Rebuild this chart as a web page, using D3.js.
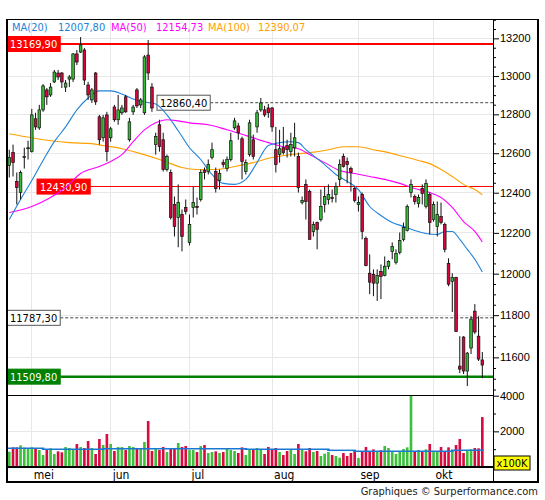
<!DOCTYPE html>
<html>
<head>
<meta charset="utf-8">
<script src="https://cdn.jsdelivr.net/npm/d3@7"></script>
<style>
  body { margin: 0; background: #fff; }
  svg { display: block; font-family: "DejaVu Sans Condensed", "DejaVu Sans", sans-serif; }
</style>
</head>
<body>
<svg width="545" height="500"></svg>
<script>
// trading days, 23 apr -> 18 okt (exchange closed 1 and 21 mei)
const firstDay = new Date(2018, 3, 23);
const lastDay = new Date(2018, 9, 19);
const holidays = ['2018-05-01', '2018-05-21'];
const monthLabels = ['mei', 'jun', 'jul', 'aug', 'sep', 'okt'];

const open = [12537,12603,12457,12401,12578,12623,12608,12777,12730,12823,12927,12901,12969,13016,13016,12942,12984,12984,13117,13127,
  13138,12953,12875,13016,12787,12679,12797,12679,12838,12772,12808,12891,12669,12813,12927,12849,12808,13111,12942,12644,
  12746,12669,12517,12502,12341,12276,12291,12326,12153,12326,12331,12366,12512,12507,12578,12507,12462,12552,12522,12568,
  12730,12740,12674,12507,12593,12669,12735,12823,12823,12833,12833,12618,12593,12628,12639,12608,12628,12583,12351,12442,
  12406,12207,12251,12266,12341,12366,12376,12391,12467,12583,12558,12522,12421,12341,12391,12173,12002,11997,11954,12011,
  11992,12036,12109,12055,12104,12168,12212,12401,12381,12346,12421,12331,12391,12266,12232,12281,12242,12050,11963,11982,
  11559,11696,11536,11644,11819,11700,11588];
const high = [12618,12644,12502,12512,12628,12664,12828,12808,12849,12958,12937,12963,13032,13032,13021,12979,13005,13122,13138,13207,
  13149,12969,12937,13021,12797,12797,12813,12735,12849,12901,12849,12901,12782,12849,12937,12885,13111,13191,12963,12705,
  12772,12705,12593,12517,12381,12442,12316,12366,12291,12431,12376,12517,12527,12568,12654,12527,12517,12568,12583,12705,
  12782,12756,12685,12568,12772,12695,12823,12885,12844,12854,12838,12735,12720,12735,12669,12705,12756,12603,12381,12467,
  12416,12256,12256,12416,12431,12442,12416,12452,12568,12598,12578,12532,12431,12381,12401,12182,12094,12021,12021,12045,
  12084,12065,12153,12119,12202,12251,12341,12467,12391,12391,12442,12467,12401,12356,12356,12351,12251,12075,12002,11985,
  11700,11700,11625,11795,11853,11795,11625];
const low = [12477,12482,12341,12366,12522,12568,12603,12720,12720,12813,12849,12891,12963,12979,12937,12916,12942,12969,13058,13122,
  12953,12875,12859,12849,12644,12659,12558,12659,12761,12746,12797,12808,12659,12797,12833,12833,12797,12979,12813,12593,
  12608,12507,12507,12266,12182,12129,12109,12291,12138,12276,12291,12356,12467,12492,12568,12401,12416,12527,12507,12558,
  12720,12669,12467,12492,12583,12568,12705,12813,12787,12782,12710,12502,12552,12593,12578,12583,12583,12401,12341,12266,
  12168,12182,12119,12256,12301,12341,12351,12351,12431,12527,12447,12406,12351,12306,12168,12036,11901,11891,11868,11877,
  11987,12021,12070,12045,12094,12158,12207,12376,12341,12326,12341,12321,12192,12256,12182,12242,12104,11939,11815,11720,
  11526,11522,11466,11616,11710,11583,11503];
const close = [12578,12552,12426,12502,12583,12628,12797,12735,12823,12948,12891,12942,13021,12995,12969,12963,12995,13117,13074,13165,
  12979,12901,12927,12865,12669,12782,12608,12725,12772,12823,12833,12813,12761,12838,12844,12875,13101,13016,12833,12685,
  12634,12517,12583,12276,12232,12351,12182,12306,12242,12351,12326,12502,12502,12542,12618,12421,12497,12542,12568,12664,
  12766,12705,12558,12552,12756,12583,12808,12859,12797,12808,12735,12542,12623,12603,12618,12644,12679,12426,12361,12356,
  12168,12242,12217,12331,12381,12391,12371,12431,12542,12532,12542,12502,12361,12351,12207,12040,11959,11954,11992,11987,
  12036,12060,12133,12099,12163,12227,12331,12442,12356,12376,12396,12447,12251,12341,12291,12251,12119,11949,11982,11722,
  11545,11536,11620,11781,11720,11592,11564];
// volume in units of 100K
const volume = [860,1103,1103,1215,1084,1047,1103,1009,953,673,953,1047,729,878,822,1121,1065,991,1290,1121,
  1065,1458,1065,729,1570,1234,1850,1290,897,1121,1121,953,1177,1121,1009,1009,1402,2579,897,1009,
  953,1121,841,1009,1009,1346,1121,1177,953,953,841,1177,1234,785,841,878,785,841,1009,953,
  897,785,1103,673,991,953,1065,991,729,1121,991,1065,841,673,897,972,729,1290,1009,878,
  1065,841,897,617,748,841,673,617,523,785,617,785,897,505,841,1121,878,991,878,935,
  1177,1065,841,729,897,1009,1103,4000,878,953,878,991,1290,897,878,1121,878,1103,878,1234,
  1570,785,897,991,1065,1047,2800];
// average volume: [from day, to day, level]
const volAvg = [[0,9,1050],[9,25,1000],[25,63,1030],[63,85,990],[85,92,935],[92,118,880],[118,126,935]];

// moving averages: [day index, value]
const ma20 = [[0,12266],[3,12366],[6,12462],[9,12563],[12,12659],[15,12735],[18,12823],[21,12885],[24,12922],[27,12922],
  [30,12906],[33,12880],[36,12864],[39,12854],[42,12797],[45,12715],[48,12628],[51,12568],[54,12492],[57,12447],
  [60,12442],[63,12467],[66,12552],[69,12639],[72,12654],[75,12659],[77,12654],[79,12618],[81,12588],[84,12542],
  [87,12492],[90,12457],[93,12416],[96,12331],[99,12286],[102,12251],[105,12232],[108,12212],[111,12197],[114,12192],
  [116,12207],[118,12207],[120,12168],[122,12119],[124,12070],[126,12007.80]];
const ma50 = [[0,12301],[6,12331],[11,12376],[15,12426],[19,12497],[24,12532],[27,12558],[30,12593],[33,12659],[36,12720],
  [39,12756],[42,12772],[45,12766],[48,12756],[53,12746],[58,12720],[64,12685],[69,12654],[73,12633],[77,12623],
  [80,12593],[84,12552],[88,12512],[92,12497],[96,12482],[100,12467],[104,12447],[108,12421],[112,12401],[115,12376],
  [118,12326],[121,12256],[124,12207],[126,12154.73]];
const ma100 = [[0,12700],[6,12679],[11,12664],[16,12654],[22,12649],[25,12639],[30,12623],[35,12598],[40,12568],[43,12547],
  [46,12527],[50,12517],[55,12517],[60,12532],[65,12552],[70,12578],[75,12593],[80,12603],[85,12618],[89,12633],
  [93,12633],[97,12618],[101,12603],[105,12583],[109,12563],[112,12547],[115,12517],[118,12482],[121,12442],[124,12416],
  [126,12390.07]];
const maNames = ['MA(20)', 'MA(50)', 'MA(100)'];
const maColors = ['#1f82d8', '#ff00ff', '#ffa000'];

// horizontal levels
const levels = [13169.90, 12860.40, 12430.90, 11787.30, 11509.80];
const priceTicks = [11600, 11800, 12000, 12200, 12400, 12600, 12800, 13000, 13200];
const volTicks = [2000, 4000];

const GREEN = '#36bb36', RED = '#d4063c';
const fmtDay = d3.timeFormat('%Y-%m-%d');
const days = d3.timeDay.range(firstDay, lastDay)
    .filter(d => d.getDay() % 6 !== 0)
    .map(fmtDay)
    .filter(s => !holidays.includes(s));
const comma = v => d3.format('.2f')(v).replace('.', ',');

// pane edges
const L = 7, R = 493, RF = 538, T = 19.5, PB = 395.7, VB = 467, B = 482;

const svg = d3.select('svg');

const x = d3.scaleBand().domain(days).range([7.4, 484.2]).paddingInner(0.3).paddingOuter(0.15);
const cx = i => x(days[i]) + x.bandwidth() / 2;
const y = d3.scaleLog().domain([11421.3, 13301.2]).range([PB, T]);
const yv = d3.scaleLinear().domain([0, 4000]).range([VB, PB]);

// grid
const grid = svg.append('g').attr('stroke', '#e8e8e8').attr('shape-rendering', 'crispEdges');
grid.selectAll('line.h').data(priceTicks).join('line').attr('class', 'h')
    .attr('x1', L).attr('x2', R).attr('y1', d => y(d)).attr('y2', d => y(d));
grid.append('line').attr('x1', L).attr('x2', R).attr('y1', yv(2000)).attr('y2', yv(2000));
const monthStart = monthLabels.map((m, k) => days.findIndex(d => +d.slice(5, 7) === k + 5));
grid.selectAll('line.v').data(monthStart).join('line').attr('class', 'v')
    .attr('x1', cx).attr('x2', cx).attr('y1', T).attr('y2', VB);

// level lines
const lvlStyle = [
    { color: '#ff0000', w: 2, dash: null, box: '#ff0000', text: '#fff', bx: 7 },
    { color: '#444', w: 1, dash: '3,2', box: '#fff', text: '#000', bx: 157 },
    { color: '#ff0000', w: 1.1, dash: null, box: '#ff0000', text: '#fff', bx: 37 },
    { color: '#444', w: 1, dash: '3,2', box: '#fff', text: '#000', bx: 7 },
    { color: '#008000', w: 2.5, dash: null, box: '#008000', text: '#fff', bx: 7 }
];
const lv = svg.append('g').selectAll('g').data(levels).join('g');
lv.each(function (v, k) {
    const s = lvlStyle[k];
    const g = d3.select(this);
    const t = g.append('text').attr('y', y(v) + 4).attr('font-size', 11).attr('fill', s.text).text(comma(v));
    const tw = t.node().getComputedTextLength();
    t.attr('x', s.bx + 3);
    g.insert('rect', 'text').attr('x', s.bx).attr('y', y(v) - 7.5).attr('width', tw + 6).attr('height', 15)
        .attr('fill', s.box).attr('stroke', s.box === '#fff' ? '#555' : s.box).attr('stroke-width', 1);
    g.insert('line', 'rect').attr('x1', s.bx + tw + 6).attr('x2', R).attr('y1', y(v)).attr('y2', y(v))
        .attr('stroke', s.color).attr('stroke-width', s.w).attr('stroke-dasharray', s.dash);
});

// moving averages
const maLine = d3.line().x(d => cx(d[0])).y(d => y(d[1])).curve(d3.curveMonotoneX);
svg.append('g').selectAll('path').data([ma100, ma50, ma20]).join('path')
    .attr('d', maLine).attr('fill', 'none')
    .attr('stroke', (d, i) => maColors[2 - i]).attr('stroke-width', 1.1);

// candles
const idx = d3.range(days.length);
const up = i => close[i] >= open[i];
const candles = svg.append('g').selectAll('g').data(idx).join('g');
candles.append('line')
    .attr('x1', cx).attr('x2', cx)
    .attr('y1', i => y(high[i])).attr('y2', i => y(low[i]))
    .attr('stroke', '#111').attr('stroke-width', 1);
candles.append('rect')
    .attr('x', i => x(days[i]))
    .attr('width', x.bandwidth())
    .attr('y', i => y(Math.max(open[i], close[i])))
    .attr('height', i => Math.max(1, Math.abs(y(open[i]) - y(close[i]))))
    .attr('fill', i => up(i) ? GREEN : RED)
    .attr('stroke', '#111').attr('stroke-width', 0.7);

// volume
svg.append('g').selectAll('rect').data(idx).join('rect')
    .attr('x', i => x(days[i]))
    .attr('width', x.bandwidth())
    .attr('y', i => yv(volume[i]))
    .attr('height', i => yv(0) - yv(volume[i]))
    .attr('fill', i => up(i) ? '#3cc03c' : '#d80a40');
svg.append('g').selectAll('line').data(volAvg).join('line')
    .attr('x1', d => x(days[d[0]])).attr('x2', d => x(days[d[1]]) + x.bandwidth())
    .attr('y1', d => yv(d[2])).attr('y2', d => yv(d[2]))
    .attr('stroke', '#1a78d2').attr('stroke-width', 1.5);

// frame
const frame = svg.append('g').attr('stroke', '#000').attr('fill', 'none').attr('shape-rendering', 'crispEdges');
frame.append('rect').attr('x', L).attr('y', T).attr('width', RF - L).attr('height', B - T).attr('stroke-width', 1.5);
frame.append('line').attr('x1', R).attr('x2', R).attr('y1', T).attr('y2', B);
frame.append('line').attr('x1', L).attr('x2', R).attr('y1', PB).attr('y2', PB).attr('stroke-width', 1.5);
frame.append('line').attr('x1', L).attr('x2', R).attr('y1', VB).attr('y2', VB).attr('stroke-width', 1.5);

// right axes
const minorP = d3.range(11450, 13301, 50).filter(v => !priceTicks.includes(v));
svg.append('g').attr('transform', `translate(${R},0)`)
    .call(d3.axisRight(y).tickValues(minorP).tickSize(3).tickFormat(''))
    .call(g => g.select('.domain').remove());
svg.append('g').attr('transform', `translate(${R},0)`)
    .call(d3.axisRight(y).tickValues(priceTicks).tickSize(6).tickPadding(1).tickFormat(d3.format('d')))
    .call(g => g.select('.domain').remove())
    .call(g => g.selectAll('text').attr('font-size', 11).attr('font-family', null).attr('fill', '#000'));
svg.append('g').attr('transform', `translate(${R},0)`)
    .call(d3.axisRight(yv).tickValues([1000, 3000]).tickSize(3).tickFormat(''))
    .call(g => g.select('.domain').remove());
svg.append('g').attr('transform', `translate(${R},0)`)
    .call(d3.axisRight(yv).tickValues(volTicks).tickSize(6).tickPadding(1).tickFormat(d3.format('d')))
    .call(g => g.select('.domain').remove())
    .call(g => g.selectAll('text').attr('font-size', 11).attr('font-family', null).attr('fill', '#000'));

// x100K tag
svg.append('rect').attr('x', 494).attr('y', 456).attr('width', 36).attr('height', 14)
    .attr('fill', '#ffff00').attr('stroke', '#000');
svg.append('text').attr('x', 512).attr('y', 467).attr('text-anchor', 'middle').attr('font-size', 11).text('x100K');

// months
svg.append('g').selectAll('text').data(monthStart).join('text')
    .attr('x', i => cx(i) + 2).attr('y', 478.5).attr('font-size', 12)
    .text((i, k) => monthLabels[k]);

// legend
const lastVals = [ma20, ma50, ma100].map(a => a[a.length - 1][1]);
const legX = [[12, 58], [111, 156], [208, 258]];
const leg = svg.append('g').attr('font-size', 11);
maNames.forEach((n, k) => {
    leg.append('text').attr('x', legX[k][0]).attr('y', 31).attr('fill', maColors[k]).text(n);
    leg.append('text').attr('x', legX[k][1]).attr('y', 31).attr('fill', maColors[k]).text(comma(lastVals[k]));
});

svg.append('text').attr('x', 538).attr('y', 495).attr('text-anchor', 'end')
    .attr('font-size', 11).attr('fill', '#222').text('Graphiques © Surperformance.com');
</script>
</body>
</html>
